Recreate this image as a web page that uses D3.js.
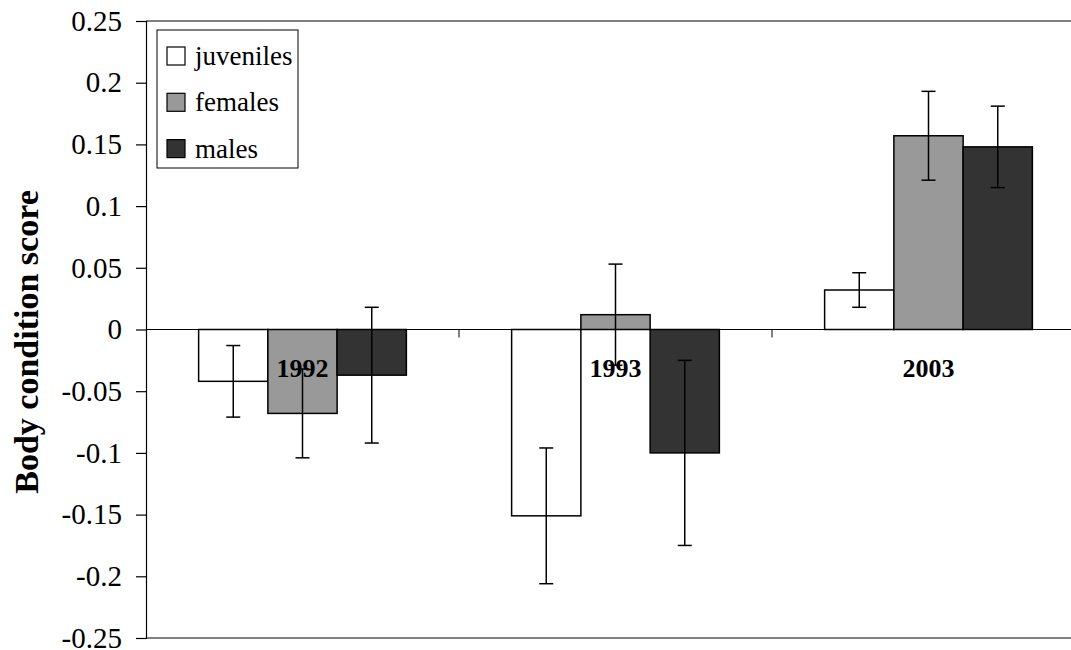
<!DOCTYPE html>
<html>
<head>
<meta charset="utf-8">
<script src="https://cdn.jsdelivr.net/npm/d3@7"></script>
<style>
  body { margin: 0; background: #fff; }
  svg { display: block; }
  svg text { font-family: "Liberation Serif", "Times New Roman", serif; }
</style>
</head>
<body>
<svg id="chart" width="1071" height="650"></svg>
<script>
const years = ['1992', '1993', '2003'];
const groups = ['juveniles', 'females', 'males'];
const colors = ['#ffffff', '#999999', '#333333'];

// mean body condition score per year, by group
const juveniles = [-0.042, -0.151, 0.032];
const females = [-0.068, 0.012, 0.157];
const males = [-0.037, -0.100, 0.148];

// error bar half widths
const juvenilesErr = [0.029, 0.055, 0.014];
const femalesErr = [0.036, 0.041, 0.036];
const malesErr = [0.055, 0.075, 0.033];

const yTicks = [0.25, 0.2, 0.15, 0.1, 0.05, 0, -0.05, -0.1, -0.15, -0.2, -0.25];

const values = [juveniles, females, males];
const errors = [juvenilesErr, femalesErr, malesErr];

const FONT = '"Liberation Serif", "Times New Roman", serif';
const plotLeft = 146, plotRight = 1085, plotTop = 21, plotBottom = 638;
const svg = d3.select('#chart');

const y = d3.scaleLinear().domain([-0.25, 0.25]).range([plotBottom, plotTop]);
const x0 = d3.scaleBand().domain(years).range([plotLeft, plotRight]);
const x1 = d3.scaleBand().domain(groups).range([0, x0.bandwidth()]).paddingOuter(0.76);

const bars = [];
years.forEach((yr, i) => {
  groups.forEach((g, j) => {
    bars.push({ year: yr, group: g, idx: j, value: values[j][i], err: errors[j][i] });
  });
});

// plot frame top / bottom (grey)
svg.append('line')
  .attr('x1', plotLeft).attr('x2', plotRight).attr('y1', plotTop).attr('y2', plotTop)
  .attr('stroke', '#808080').attr('stroke-width', 2);
svg.append('line')
  .attr('x1', plotLeft).attr('x2', plotRight).attr('y1', plotBottom).attr('y2', plotBottom)
  .attr('stroke', '#808080').attr('stroke-width', 2);

// bars
svg.append('g').selectAll('rect')
  .data(bars)
  .enter()
  .append('rect')
  .attr('x', (d) => x0(d.year) + x1(d.group))
  .attr('width', x1.bandwidth())
  .attr('y', (d) => y(Math.max(0, d.value)))
  .attr('height', (d) => Math.abs(y(d.value) - y(0)))
  .attr('fill', (d) => colors[d.idx])
  .attr('stroke', '#000')
  .attr('stroke-width', 1.5);

// zero line with category ticks
svg.append('line')
  .attr('x1', plotLeft).attr('x2', plotRight).attr('y1', y(0)).attr('y2', y(0))
  .attr('stroke', '#000').attr('stroke-width', 1.2);
svg.append('g').selectAll('line')
  .data(years.slice(1))
  .enter()
  .append('line')
  .attr('x1', (d) => x0(d)).attr('x2', (d) => x0(d))
  .attr('y1', y(0)).attr('y2', y(0) + 8)
  .attr('stroke', '#000').attr('stroke-width', 1);

// error bars
const eb = svg.append('g').selectAll('g')
  .data(bars)
  .enter()
  .append('g')
  .attr('stroke', '#000')
  .attr('stroke-width', 1.5);
const cx = (d) => x0(d.year) + x1(d.group) + x1.bandwidth() / 2;
eb.append('line')
  .attr('x1', cx).attr('x2', cx)
  .attr('y1', (d) => y(d.value + d.err)).attr('y2', (d) => y(d.value - d.err));
eb.append('line')
  .attr('x1', (d) => cx(d) - 7).attr('x2', (d) => cx(d) + 7)
  .attr('y1', (d) => y(d.value + d.err)).attr('y2', (d) => y(d.value + d.err));
eb.append('line')
  .attr('x1', (d) => cx(d) - 7).attr('x2', (d) => cx(d) + 7)
  .attr('y1', (d) => y(d.value - d.err)).attr('y2', (d) => y(d.value - d.err));

// category labels
svg.append('g').selectAll('text')
  .data(years)
  .enter()
  .append('text')
  .attr('x', (d) => x0(d) + x0.bandwidth() / 2)
  .attr('y', y(0) + 47)
  .attr('text-anchor', 'middle')
  .attr('font-family', FONT)
  .attr('font-size', 26)
  .attr('font-weight', 'bold')
  .text((d) => d);

// y axis
const yAxis = svg.append('g')
  .attr('transform', `translate(${plotLeft},0)`)
  .call(d3.axisLeft(y).tickValues(yTicks).tickSize(10).tickPadding(14).tickFormat((d) => String(d)));
yAxis.attr('font-family', FONT);
yAxis.select('.domain').attr('stroke', '#000').attr('stroke-width', 1.2);
yAxis.selectAll('.tick line').attr('stroke', '#000').attr('stroke-width', 1.2);
yAxis.selectAll('.tick text')
  .attr('font-size', 29)
  .attr('font-family', FONT)
  .attr('fill', '#000');

svg.append('text')
  .attr('transform', 'translate(38,342) rotate(-90)')
  .attr('text-anchor', 'middle')
  .attr('font-family', FONT)
  .attr('font-size', 34)
  .attr('font-weight', 'bold')
  .text('Body condition score');

// legend
const legend = svg.append('g').attr('transform', 'translate(157,30)');
legend.append('rect')
  .attr('width', 141).attr('height', 138)
  .attr('fill', '#fff').attr('stroke', '#000').attr('stroke-width', 1);
const item = legend.selectAll('g.item')
  .data(groups)
  .enter()
  .append('g')
  .attr('class', 'item')
  .attr('transform', (d, i) => `translate(10,${26 + i * 46.3})`);
item.append('rect')
  .attr('x', 0).attr('y', -9).attr('width', 18).attr('height', 18)
  .attr('fill', (d, i) => colors[i])
  .attr('stroke', '#000').attr('stroke-width', 1.2);
item.append('text')
  .attr('x', 28).attr('y', 9)
  .attr('font-family', FONT)
  .attr('font-size', 27)
  .text((d) => d);
</script>
</body>
</html>
